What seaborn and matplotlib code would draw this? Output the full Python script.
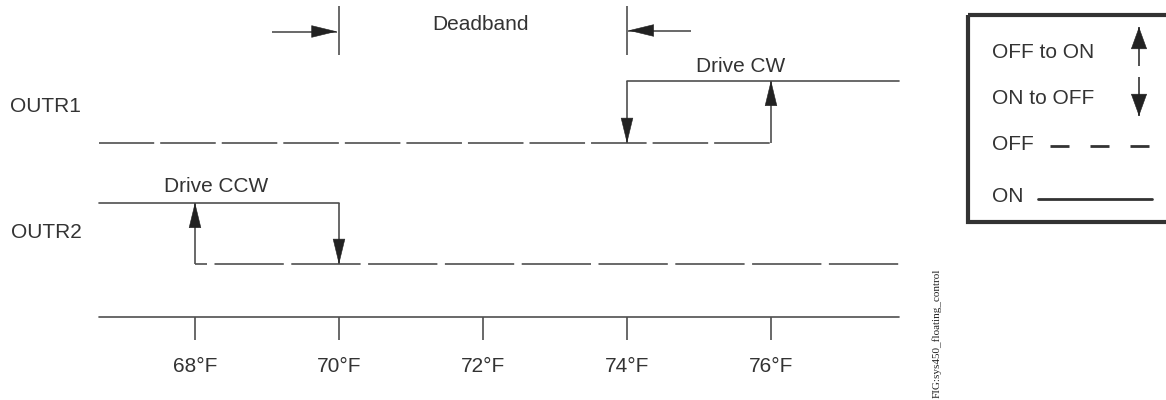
import numpy as np
import pandas as pd
import matplotlib
matplotlib.use("Agg")
import matplotlib.pyplot as plt
import seaborn as sns
from matplotlib.patches import Rectangle

# ---------------- data ----------------
tick_temps = [68, 70, 72, 74, 76]
tick_labels = ["68°F", "70°F", "72°F", "74°F", "76°F"]
scale_range = [66.67, 77.78]
outr1_on_temp = 76    # OUTR1 switches OFF -> ON (Drive CW)
outr1_off_temp = 74   # OUTR1 switches ON -> OFF
outr2_on_temp = 68    # OUTR2 switches OFF -> ON (Drive CCW)
outr2_off_temp = 70   # OUTR2 switches ON -> OFF
deadband = [70, 74]
row_names = ["OUTR1", "OUTR2"]
row_notes = ["Drive CW", "Drive CCW"]
legend_labels = ["OFF to ON", "ON to OFF", "OFF", "ON"]
fig_id = "FIG:sys450_floating_control"

# ---------------- style / layout ----------------
sns.set_theme(style="white")
plt.rcParams["font.family"] = ["Liberation Sans", "DejaVu Sans"]
plt.rcParams["lines.scale_dashes"] = False

W, H = 1166, 400
PX_PER_DEG = 72.0
X0 = 68 - 195 / PX_PER_DEG
X1 = X0 + W / PX_PER_DEG

LINE = "#4f4f4f"
HEAD = "#222222"
TXT = "#333333"
LW = 1.2
FS = 15

R1_ON, R1_OFF = 80.5, 143.3
R2_ON, R2_OFF = 202.5, 264.3
AXIS_Y = 316.8
TICK_LEN = 23.5

fig = plt.figure(figsize=(W / 100, H / 100), dpi=100)
fig.patch.set_facecolor("white")
ax = fig.add_axes([0, 0, 1, 1])
ax.set_xlim(X0, X1)
ax.set_ylim(H, 0)
ax.axis("off")

ov = fig.add_axes([0, 0, 1, 1])
ov.set_xlim(0, W)
ov.set_ylim(H, 0)
ov.axis("off")
ov.patch.set_alpha(0)

segments = pd.DataFrame({
    "seg": ["r1_off", "r1_off", "r1_on", "r1_on", "r2_on", "r2_on",
            "r2_off", "r2_off", "axis", "axis"],
    "temp": [scale_range[0], outr1_on_temp, outr1_off_temp, scale_range[1],
             scale_range[0], outr2_off_temp, outr2_on_temp, scale_range[1],
             scale_range[0], scale_range[1]],
    "y": [R1_OFF, R1_OFF, R1_ON, R1_ON, R2_ON, R2_ON, R2_OFF, R2_OFF,
          AXIS_Y, AXIS_Y],
})

px2pt = 0.72
styles = {
    "r1_off": (0.35 * px2pt, (55.55 * px2pt, 6.0 * px2pt)),
    "r1_on": "-",
    "r2_on": "-",
    "r2_off": ((69.3 - 12.0) * px2pt, (69.3 * px2pt, 7.5 * px2pt)),
    "axis": "-",
}
for seg, ls in styles.items():
    d = segments[segments["seg"] == seg]
    sns.lineplot(data=d, x="temp", y="y", ax=ax, color=LINE, lw=LW,
                 linestyle=ls, sort=False, estimator=None, legend=False)

# ticks & labels
ax.vlines(tick_temps, AXIS_Y, AXIS_Y + TICK_LEN, color=LINE, lw=LW)
for t, lab in zip(tick_temps, tick_labels):
    ax.text(t, 367, lab, ha="center", va="center", fontsize=FS, color=TXT)


def arrow(a, x0, y0, x1, y1, head_px=24, hw=0.42, stem_color=LINE):
    """stem drawn as line, filled head drawn separately (in pixel units)"""
    a.plot([x0, x1], [y0, y1], color=stem_color, lw=LW, solid_capstyle="butt")
    # head start: move head_px back along the arrow direction (display space)
    p0 = a.transData.transform((x0, y0))
    p1 = a.transData.transform((x1, y1))
    v = (p1 - p0) / np.hypot(*(p1 - p0))
    hs = a.transData.inverted().transform(p1 - v * head_px)
    a.annotate("", xy=(x1, y1), xytext=tuple(hs),
               arrowprops=dict(arrowstyle=f"-|>,head_length={head_px * px2pt / 10:.3f},head_width={hw}",
                               mutation_scale=10, shrinkA=0, shrinkB=0,
                               color=HEAD, lw=0.4))


# transitions
arrow(ax, outr1_off_temp, R1_ON, outr1_off_temp, R1_OFF)
arrow(ax, outr1_on_temp, R1_OFF, outr1_on_temp, R1_ON)
arrow(ax, outr2_on_temp, R2_OFF, outr2_on_temp, R2_ON)
arrow(ax, outr2_off_temp, R2_ON, outr2_off_temp, R2_OFF)

# deadband
ax.vlines(deadband, 6, 55, color=LINE, lw=LW)
arrow(ax, deadband[0] - 0.93, 31.5, deadband[0] - 0.03, 31.5)
arrow(ax, deadband[1] + 0.89, 30.5, deadband[1] + 0.02, 30.5)
ax.text((deadband[0] + deadband[1]) / 2 - 0.04, 25, "Deadband", ha="center",
        va="center", fontsize=FS, color=TXT)

# row labels and notes
ov.text(10, 107, row_names[0], ha="left", va="center", fontsize=FS, color=TXT)
ov.text(11, 232, row_names[1], ha="left", va="center", fontsize=FS, color=TXT)
ax.text(75.58, 67, row_notes[0], ha="center", va="center", fontsize=FS, color=TXT)
ax.text(68.3, 187, row_notes[1], ha="center", va="center", fontsize=FS, color=TXT)

# legend box
ov.add_patch(Rectangle((968, 15), 220, 207, fill=False, ec="#333333", lw=3.0,
                       clip_on=False))
ov.text(992, 53, legend_labels[0], ha="left", va="center", fontsize=FS, color=TXT)
ov.text(992, 99, legend_labels[1], ha="left", va="center", fontsize=FS, color=TXT)
ov.text(992, 145, legend_labels[2], ha="left", va="center", fontsize=FS, color=TXT)
ov.text(992, 196, legend_labels[3], ha="left", va="center", fontsize=FS, color=TXT)
arrow(ov, 1139, 66, 1139, 27, head_px=21, hw=0.55, stem_color="#333333")
arrow(ov, 1139, 77, 1139, 116, head_px=21, hw=0.55, stem_color="#333333")
ov.plot([1050, 1149], [145.5, 145.5], color="#333333", lw=2.0,
        linestyle=(0, (19 * px2pt, 21 * px2pt)), solid_capstyle="butt")
ov.plot([1038, 1152], [199, 199], color="#333333", lw=2.0)

# figure id
ov.text(937, 333, fig_id, rotation=90, ha="center", va="center", fontsize=8,
        family=["Liberation Serif", "DejaVu Serif"], color="#222222")

fig.savefig("out.png", dpi=100, facecolor="white")
